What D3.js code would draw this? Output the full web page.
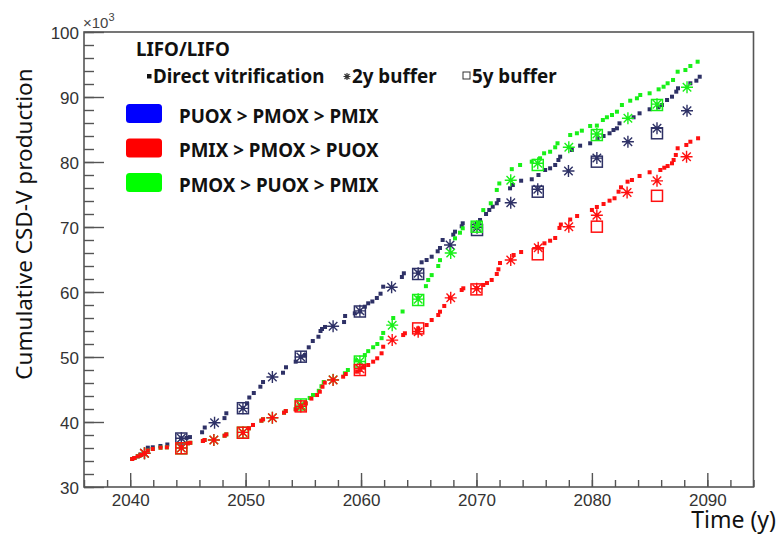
<!DOCTYPE html>
<html>
<head>
<meta charset="utf-8">
<script src="https://cdn.jsdelivr.net/npm/d3@7"></script>
<style>
  html, body { margin: 0; padding: 0; background: #fff; }
  svg { display: block; }
</style>
</head>
<body>
<svg id="chart" width="780" height="534"></svg>
<script>
// ---- Data: cumulative CSD-V production (thousands) versus time (year) ----
// Direct vitrification, 2-year buffer and 5-year buffer for three reprocessing orders.

const puoxDirect = [
  [2040.17,34.31],[2040.37,34.46],[2040.66,34.72],[2040.95,34.92],[2041.24,35.15],
  [2041.53,36.05],[2041.96,36.11],[2042.62,36.31],[2043.22,36.54],[2044.43,37.46],[2044.88,37.55],
  [2045.18,37.68],[2046.23,38.42],[2046.46,39.15],[2048.17,40.6],[2048.33,41.34],[2049.77,42.12],
  [2050.12,42.88],[2050.32,43.77],[2050.71,44.46],[2051.28,45.43],[2051.51,46.15],[2053.24,47.58],
  [2053.5,48.42],[2054.34,49.28],[2054.78,50.05],[2055.15,50.3],[2055.47,51.49],[2055.82,52.46],
  [2056.31,53.12],[2056.49,54.0],[2056.62,54.31],[2056.88,54.62],[2058.53,55.38],[2058.62,56.31],
  [2059.46,56.72],[2059.9,57.0],[2060.33,57.74],[2060.62,58.26],[2060.98,58.54],[2061.37,59.08],
  [2061.69,59.74],[2061.92,60.82],[2063.54,62.31],[2063.71,62.88],[2064.95,63.0],[2065.25,64.57],
  [2065.68,64.92],[2066.12,65.43],[2066.64,66.26],[2066.84,66.77],[2067.07,68.0],[2067.99,68.82],
  [2068.14,69.28],[2068.72,70.11],[2068.81,70.57],[2070.0,70.6],[2070.31,71.08],[2070.83,72.0],
  [2071.11,72.62],[2071.41,73.12],[2071.76,73.65],[2071.9,74.15],[2072.91,75.95],[2073.15,76.46],
  [2073.87,77.12],[2074.79,77.34],[2075.37,78.0],[2075.95,78.77],[2076.38,79.03],[2076.82,79.54],
  [2077.1,80.31],[2077.25,80.82],[2078.26,81.85],[2078.98,82.51],[2079.85,82.88],[2080.49,83.65],
  [2081.01,84.0],[2081.53,84.42],[2081.87,84.92],[2082.17,85.18],[2082.39,85.95],[2083.61,86.88],
  [2084.13,87.49],[2085.0,88.11],[2085.73,88.42],[2086.07,88.77],[2086.51,89.54],[2086.94,90.05],
  [2087.31,90.82],[2087.46,91.34],[2088.53,92.11],[2089.05,92.51],[2089.34,93.12]
];
const puox2y = [
  [2041.24,35.2],[2044.43,37.5],[2047.31,39.89],[2049.77,42.1],[2052.32,46.92],[2054.78,50.0],
  [2057.58,54.72],[2059.9,57.1],[2062.65,60.72],[2064.95,62.9],[2067.71,67.23],[2070.05,69.9],
  [2072.97,73.74],[2075.31,75.8],[2077.97,78.62],[2080.43,80.6],[2083.12,83.12],[2085.64,85.2],
  [2088.24,87.89]
];
const puox5y = [
  [2044.43,37.46],[2049.77,42.12],[2054.78,50.05],[2059.9,57.0],[2064.95,62.77],[2070.05,69.54],
  [2075.31,75.43],[2080.43,80.05],[2085.64,84.42]
];

const pmixDirect = [
  [2040.17,34.31],[2040.37,34.46],[2040.66,34.72],[2040.95,34.92],[2041.24,35.15],[2041.53,35.6],
  [2041.96,35.85],[2042.63,36.05],[2043.18,36.1],[2044.43,36.15],[2045.0,36.72],[2045.21,36.8],
  [2046.3,37.08],[2046.45,37.23],[2048.18,37.89],[2048.33,38.1],[2049.77,38.35],[2050.29,39.03],
  [2050.64,39.54],[2051.37,40.2],[2051.51,40.42],[2053.33,41.43],[2053.48,41.69],[2054.34,41.92],
  [2054.78,42.38],[2055.21,42.85],[2055.7,43.6],[2056.19,44.15],[2056.43,44.66],[2056.66,45.43],
  [2056.86,46.05],[2058.45,46.97],[2058.68,47.38],[2059.66,47.74],[2059.9,48.0],[2060.18,48.42],
  [2060.62,48.77],[2061.05,49.28],[2061.4,49.8],[2061.78,50.57],[2061.92,51.58],[2063.65,53.38],
  [2063.8,53.65],[2064.82,54.0],[2064.95,54.4],[2065.68,54.92],[2066.12,55.69],[2066.69,56.46],
  [2066.84,56.97],[2067.21,57.85],[2067.7,59.1],[2068.72,60.31],[2068.86,60.57],[2070.02,60.6],
  [2070.59,61.08],[2070.91,61.38],[2071.32,61.85],[2071.76,62.77],[2071.9,63.49],[2072.04,64.46],
  [2073.22,65.69],[2073.87,66.15],[2075.25,66.92],[2075.89,67.49],[2076.38,67.89],[2076.82,68.31],
  [2077.19,69.85],[2077.31,70.38],[2078.12,71.15],[2078.72,71.69],[2080.0,72.62],[2080.43,73.08],
  [2081.01,73.54],[2081.53,74.05],[2081.96,74.42],[2082.31,75.43],[2082.52,76.11],[2083.09,76.97],
  [2083.47,77.23],[2084.13,77.85],[2085.0,78.42],[2085.93,78.77],[2086.27,79.12],[2086.56,79.38],
  [2086.94,79.8],[2087.08,80.31],[2087.27,81.08],[2087.43,82.11],[2088.18,82.62],[2088.53,83.12],
  [2089.2,83.65]
];
const pmix2y = [
  [2041.24,35.18],[2044.43,36.0],[2047.25,37.23],[2049.77,38.4],[2052.32,40.66],[2054.78,42.4],
  [2057.58,46.46],[2059.9,48.2],[2062.7,52.6],[2064.95,53.9],[2067.77,59.1],[2070.02,60.5],
  [2072.97,64.92],[2075.35,66.8],[2078.0,70.05],[2080.43,71.8],[2083.05,75.3],[2085.64,77.1],
  [2088.2,80.8]
];
const pmix5y = [
  [2044.43,35.95],[2049.77,38.35],[2054.78,42.4],[2059.9,48.0],[2064.95,54.4],[2070.0,60.4],
  [2075.31,65.8],[2080.43,70.05],[2085.64,74.8]
];

const pmoxDirect = [
  [2040.17,34.31],[2040.37,34.46],[2040.66,34.72],[2040.95,34.92],[2041.24,35.15],[2041.53,35.6],
  [2041.96,35.85],[2042.63,36.05],[2043.18,36.1],[2044.43,36.15],[2045.0,36.72],[2045.21,36.8],
  [2046.3,37.08],[2046.45,37.23],[2048.18,37.89],[2048.33,38.1],[2049.77,38.35],[2050.29,39.03],
  [2050.64,39.54],[2051.37,40.2],[2051.51,40.42],[2053.33,41.43],[2053.48,41.69],[2054.34,42.0],
  [2054.78,42.6],[2055.2,42.9],[2055.55,43.7],[2055.84,44.15],[2056.34,44.8],[2056.57,45.5],
  [2056.77,46.15],[2058.6,47.5],[2058.86,48.0],[2059.55,49.5],[2060.33,50.3],[2060.62,50.9],
  [2061.05,51.5],[2061.41,52.0],[2061.78,52.9],[2061.92,53.7],[2062.79,56.0],[2063.6,57.0],
  [2064.95,59.1],[2065.62,60.9],[2065.82,61.85],[2066.12,62.6],[2066.69,64.0],[2066.84,64.9],
  [2068.14,68.26],[2068.57,69.12],[2068.81,69.8],[2070.13,70.46],[2070.59,72.6],[2071.24,73.65],
  [2071.76,75.7],[2071.98,76.7],[2073.06,78.9],[2073.78,79.54],[2074.79,80.05],[2075.51,80.57],
  [2075.86,81.34],[2076.38,81.58],[2076.82,82.26],[2077.02,82.88],[2078.12,84.15],[2078.7,84.42],
  [2079.13,84.82],[2079.85,85.54],[2080.43,85.6],[2080.95,86.46],[2081.3,86.88],[2081.74,87.23],
  [2082.17,87.74],[2082.6,88.77],[2083.32,89.43],[2083.9,89.8],[2084.19,90.31],[2085.0,90.57],
  [2085.78,91.18],[2086.21,91.58],[2086.56,92.11],[2087.03,92.62],[2087.43,93.89],[2088.1,94.15],
  [2088.53,94.77],[2089.16,95.43]
];
const pmox2y = [
  [2041.24,35.18],[2044.43,36.0],[2047.25,37.23],[2049.77,38.4],[2052.32,40.66],[2054.78,42.6],
  [2057.58,46.5],[2059.9,49.3],[2062.7,54.9],[2064.95,58.9],[2067.77,66.0],[2070.02,70.1],
  [2072.97,77.2],[2075.31,79.8],[2078.0,82.26],[2080.43,84.3],[2083.12,86.72],[2085.64,88.9],
  [2088.24,91.49]
];
const pmox5y = [
  [2044.43,35.95],[2049.77,38.35],[2054.78,42.7],[2059.9,49.3],[2064.95,58.77],[2070.02,70.05],
  [2075.31,79.54],[2080.43,84.15],[2085.64,88.77]
];

// Axis ticks
const xMajorTicks = [2040, 2050, 2060, 2070, 2080, 2090];
const xMinorTicks = d3.range(2036, 2095, 2);
const yMajorTicks = [30, 40, 50, 60, 70, 80, 90, 100];
const yMinorTicks = d3.range(30, 101, 2);

// Scenario order: labels and colours
const scenarioLabels = ["PUOX > PMOX > PMIX", "PMIX > PMOX > PUOX", "PMOX > PUOX > PMIX"];
const legendColors = ["#0000ff", "#ff0000", "#00ff00"];
const markerColors = ["#2e3166", "#ff1010", "#18f018"];

// ---- Layout ----
const svg = d3.select("#chart");
const frame = { left: 84, right: 753.5, top: 32, bottom: 487 };

const x = d3.scaleLinear().domain([2036, 2094]).range([frame.left, frame.right]);
const y = d3.scaleLinear().domain([30, 100]).range([frame.bottom, frame.top]);

const axisColor = "#555";
const tickFont = "'Liberation Sans', Arial, sans-serif";
const textFont = "'Noto Sans', 'Open Sans', sans-serif";

// Frame
svg.append("rect")
  .attr("x", frame.left).attr("y", frame.top)
  .attr("width", frame.right - frame.left).attr("height", frame.bottom - frame.top)
  .attr("fill", "none").attr("stroke", axisColor).attr("stroke-width", 1.6);

// X axis (ticks pointing inward)
const gxMinor = svg.append("g").attr("transform", `translate(0,${frame.bottom})`)
  .call(d3.axisBottom(x).tickValues(xMinorTicks).tickSize(-7).tickFormat(""));
const gxMajor = svg.append("g").attr("transform", `translate(0,${frame.bottom})`)
  .call(d3.axisBottom(x).tickValues(xMajorTicks).tickSize(-14).tickPadding(7).tickFormat(d3.format("d")));

// Y axis
const gyMinor = svg.append("g").attr("transform", `translate(${frame.left},0)`)
  .call(d3.axisLeft(y).tickValues(yMinorTicks).tickSize(-10).tickFormat(""));
const gyMajor = svg.append("g").attr("transform", `translate(${frame.left},0)`)
  .call(d3.axisLeft(y).tickValues(yMajorTicks).tickSize(-20).tickPadding(5).tickFormat(d3.format("d")));

[gxMinor, gxMajor, gyMinor, gyMajor].forEach(g => {
  g.select(".domain").remove();
  g.selectAll(".tick line").attr("stroke", axisColor).attr("stroke-width", 1.4);
  g.selectAll(".tick text").attr("fill", "#333").style("font-family", tickFont).style("font-size", "17px");
});
gyMajor.selectAll(".tick text").attr("dy", "0.36em");

// Exponent label
const expo = svg.append("text").attr("x", frame.left - 1).attr("y", 28)
  .attr("fill", "#444").style("font-family", tickFont).style("font-size", "15px");
expo.append("tspan").text("×10");
expo.append("tspan").attr("dy", -7).style("font-size", "11px").text("3");

// Axis titles
svg.append("text")
  .attr("transform", `translate(32,224) rotate(-90)`)
  .attr("text-anchor", "middle")
  .attr("fill", "#111").style("font-family", textFont).style("font-size", "22.5px")
  .text("Cumulative CSD-V production");

svg.append("text")
  .attr("x", 776).attr("y", 528).attr("text-anchor", "end")
  .attr("fill", "#111").style("font-family", textFont).style("font-size", "23px")
  .text("Time (y)");

// ---- Markers ----
const plot = svg.append("g");
const dotSize = 4, boxSize = 11, starSize = 12;

function drawDirect(data, color) {
  plot.append("g").selectAll("rect").data(data).join("rect")
    .attr("x", d => x(d[0]) - dotSize / 2).attr("y", d => y(d[1]) - dotSize / 2)
    .attr("width", dotSize).attr("height", dotSize).attr("fill", color);
}
function starPath(cx, cy, r) {
  const k = r * Math.SQRT1_2;
  return `M${cx - r},${cy}H${cx + r}M${cx},${cy - r}V${cy + r}` +
         `M${cx - k},${cy - k}L${cx + k},${cy + k}M${cx - k},${cy + k}L${cx + k},${cy - k}`;
}
function drawStars(data, color) {
  plot.append("g").selectAll("path").data(data).join("path")
    .attr("d", d => starPath(x(d[0]), y(d[1]), starSize / 2))
    .attr("stroke", color).attr("stroke-width", 1.4).attr("fill", "none");
}
function drawBoxes(data, color) {
  plot.append("g").selectAll("rect").data(data).join("rect")
    .attr("x", d => x(d[0]) - boxSize / 2).attr("y", d => y(d[1]) - boxSize / 2)
    .attr("width", boxSize).attr("height", boxSize)
    .attr("fill", "none").attr("stroke", color).attr("stroke-width", 1.5);
}

// Drawing order: PUOX first, then PMOX, then PMIX on top
const drawOrder = [
  { direct: puoxDirect, b2: puox2y, b5: puox5y, color: markerColors[0] },
  { direct: pmoxDirect, b2: pmox2y, b5: pmox5y, color: markerColors[2] },
  { direct: pmixDirect, b2: pmix2y, b5: pmix5y, color: markerColors[1] }
];
drawOrder.forEach(s => {
  drawBoxes(s.b5, s.color);
  drawStars(s.b2, s.color);
  drawDirect(s.direct, s.color);
});

// ---- Legend ----
const legend = svg.append("g").style("font-family", textFont).style("font-weight", "bold")
  .style("font-size", "18.8px").attr("fill", "#111");

legend.append("text").attr("x", 136).attr("y", 56).text("LIFO/LIFO");

legend.append("rect").attr("x", 147).attr("y", 74).attr("width", 4.5).attr("height", 4.5).attr("fill", "#111");
legend.append("text").attr("x", 153).attr("y", 83).text("Direct vitrification");

legend.append("path").attr("d", starPath(347, 76.5, 3.5)).attr("stroke", "#333").attr("stroke-width", 1.2);
legend.append("text").attr("x", 352).attr("y", 83).text("2y buffer");

legend.append("rect").attr("x", 463).attr("y", 72).attr("width", 7).attr("height", 7)
  .attr("fill", "none").attr("stroke", "#333").attr("stroke-width", 1);
legend.append("text").attr("x", 472).attr("y", 83).text("5y buffer");

const rowY = [104, 138.5, 173];
scenarioLabels.forEach((lab, i) => {
  legend.append("rect").attr("x", 126).attr("y", rowY[i]).attr("width", 36).attr("height", 19)
    .attr("rx", 3.5).attr("fill", legendColors[i]);
  legend.append("text").attr("x", 179).attr("y", rowY[i] + 18.5).text(lab);
});
</script>
</body>
</html>
